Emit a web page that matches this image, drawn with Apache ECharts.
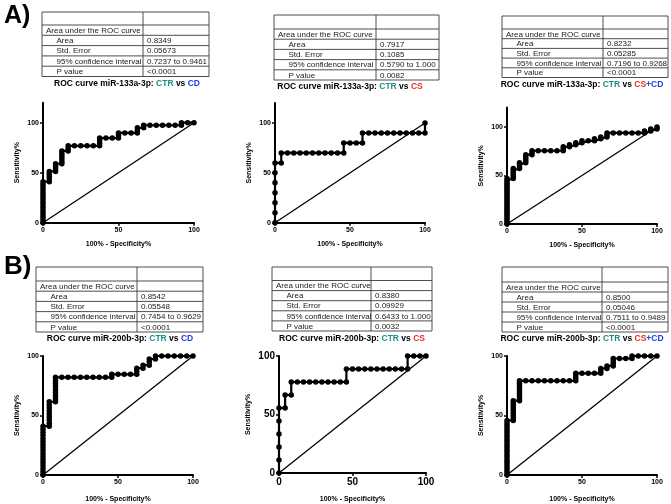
<!DOCTYPE html>
<html><head><meta charset="utf-8">
<script src="https://cdn.jsdelivr.net/npm/echarts@6/dist/echarts.min.js"></script>
<style>html,body{margin:0;padding:0;background:#fff}#c{width:671px;height:504px}</style>
</head><body><div id="c"></div>
<script>
// ---------- DATA ----------
const xTicks = [0, 50, 100];
const yTicks = [0, 50, 100];
const diagonal = [[0, 0], [100, 100]];
const rowLabels = ["Area under the ROC curve", "Area", "Std. Error", "95% confidence interval", "P value"];

const mirNames = ["miR-133a-3p", "miR-133a-3p", "miR-133a-3p", "miR-200b-3p", "miR-200b-3p", "miR-200b-3p"];
const groupNames = ["CD", "CS", "CS+CD", "CD", "CS", "CS+CD"];

const valsA1 = ["", "0.8349", "0.05673", "0.7237 to 0.9461", "<0.0001"];
const valsA2 = ["", "0.7917", "0.1085", "0.5790 to 1.000", "0.0082"];
const valsA3 = ["", "0.8232", "0.05285", "0.7196 to 0.9268", "<0.0001"];
const valsB1 = ["", "0.8542", "0.05548", "0.7454 to 0.9629", "<0.0001"];
const valsB2 = ["", "0.8380", "0.09929", "0.6433 to 1.000", "0.0032"];
const valsB3 = ["", "0.8500", "0.05046", "0.7511 to 0.9489", "<0.0001"];

// ROC points [100% - Specificity%, Sensitivity%]
const rocA1 = [[0,0],[0,2.56],[0,5.13],[0,7.69],[0,10.26],[0,12.82],[0,15.38],[0,17.95],[0,20.51],[0,23.08],[0,25.64],[0,28.21],[0,30.77],[0,33.33],[0,35.9],[0,38.46],[0,41.03],
 [4.17,41.03],[4.17,43.59],[4.17,46.15],[4.17,48.72],[4.17,51.28],
 [8.33,51.28],[8.33,53.85],[8.33,56.41],[8.33,58.97],
 [12.5,58.97],[12.5,61.54],[12.5,64.1],[12.5,66.67],[12.5,69.23],[12.5,71.79],
 [16.67,71.79],[16.67,74.36],[16.67,76.92],
 [20.83,76.92],[25,76.92],[29.17,76.92],[33.33,76.92],[37.5,76.92],
 [37.5,79.49],[37.5,82.05],[37.5,84.62],
 [41.67,84.62],[45.83,84.62],[50,84.62],[50,87.18],[50,89.74],
 [54.17,89.74],[58.33,89.74],[62.5,89.74],[62.5,92.31],[62.5,94.87],
 [66.67,94.87],[66.67,97.44],
 [70.83,97.44],[75,97.44],[79.17,97.44],[83.33,97.44],[87.5,97.44],[91.67,97.44],
 [91.67,100],[95.83,100],[100,100]];

const rocA2 = [[0,0],[0,10],[0,20],[0,30],[0,40],[0,50],[0,60],
 [4.17,60],[4.17,70],
 [8.33,70],[12.5,70],[16.67,70],[20.83,70],[25,70],[29.17,70],[33.33,70],[37.5,70],[41.67,70],[45.83,70],
 [45.83,80],[50,80],[54.17,80],[58.33,80],[58.33,90],
 [62.5,90],[66.67,90],[70.83,90],[75,90],[79.17,90],[83.33,90],[87.5,90],[91.67,90],[95.83,90],[100,90],[100,100]];

const rocA3 = [[0,0],[0,2.04],[0,4.08],[0,6.12],[0,8.16],[0,10.2],[0,12.24],[0,14.29],[0,16.33],[0,18.37],[0,20.41],[0,22.45],[0,24.49],[0,26.53],[0,28.57],[0,30.61],[0,32.65],[0,34.69],[0,36.73],[0,38.78],[0,40.82],[0,42.86],[0,44.9],[0,46.94],
 [4.17,46.94],[4.17,48.98],[4.17,51.02],[4.17,53.06],[4.17,55.1],[4.17,57.14],
 [8.33,57.14],[8.33,59.18],[8.33,61.22],[8.33,63.27],
 [12.5,63.27],[12.5,65.31],[12.5,67.35],[12.5,69.39],[12.5,71.43],
 [16.67,71.43],[16.67,73.47],[16.67,75.51],
 [20.83,75.51],[25,75.51],[29.17,75.51],[33.33,75.51],[37.5,75.51],
 [37.5,77.55],[37.5,79.59],[41.67,79.59],[41.67,81.63],[45.83,81.63],[45.83,83.67],[50,83.67],[50,85.71],
 [54.17,85.71],[58.33,85.71],[58.33,87.76],[62.5,87.76],[62.5,89.8],[66.67,89.8],[66.67,91.84],[66.67,93.88],
 [70.83,93.88],[75,93.88],[79.17,93.88],[83.33,93.88],[87.5,93.88],[91.67,93.88],
 [91.67,95.92],[95.83,95.92],[95.83,97.96],[100,97.96],[100,100]];

const rocB1 = [[0,0],[0,2.56],[0,5.13],[0,7.69],[0,10.26],[0,12.82],[0,15.38],[0,17.95],[0,20.51],[0,23.08],[0,25.64],[0,28.21],[0,30.77],[0,33.33],[0,35.9],[0,38.46],[0,41.03],
 [4.17,41.03],[4.17,43.59],[4.17,46.15],[4.17,48.72],[4.17,51.28],[4.17,53.85],[4.17,56.41],[4.17,58.97],[4.17,61.54],
 [8.33,61.54],[8.33,64.1],[8.33,66.67],[8.33,69.23],[8.33,71.79],[8.33,74.36],[8.33,76.92],[8.33,79.49],[8.33,82.05],
 [12.5,82.05],[16.67,82.05],[20.83,82.05],[25,82.05],[29.17,82.05],[33.33,82.05],[37.5,82.05],[41.67,82.05],[45.83,82.05],
 [45.83,84.62],[50,84.62],[54.17,84.62],[58.33,84.62],[62.5,84.62],
 [62.5,87.18],[62.5,89.74],[66.67,89.74],[66.67,92.31],[70.83,92.31],[70.83,94.87],[70.83,97.44],
 [75,97.44],[75,100],[79.17,100],[83.33,100],[87.5,100],[91.67,100],[95.83,100],[100,100]];

const rocB2 = [[0,0],[0,11.11],[0,22.22],[0,33.33],[0,44.44],[0,55.56],
 [4.17,55.56],[4.17,66.67],[8.33,66.67],[8.33,77.78],
 [12.5,77.78],[16.67,77.78],[20.83,77.78],[25,77.78],[29.17,77.78],[33.33,77.78],[37.5,77.78],[41.67,77.78],[45.83,77.78],
 [45.83,88.89],[50,88.89],[54.17,88.89],[58.33,88.89],[62.5,88.89],[66.67,88.89],[70.83,88.89],[75,88.89],[79.17,88.89],[83.33,88.89],[87.5,88.89],
 [87.5,100],[91.67,100],[95.83,100],[100,100]];

const rocB3 = [[0,0],[0,2.08],[0,4.17],[0,6.25],[0,8.33],[0,10.42],[0,12.5],[0,14.58],[0,16.67],[0,18.75],[0,20.83],[0,22.92],[0,25],[0,27.08],[0,29.17],[0,31.25],[0,33.33],[0,35.42],[0,37.5],[0,39.58],[0,41.67],[0,43.75],[0,45.83],
 [4.17,45.83],[4.17,47.92],[4.17,50],[4.17,52.08],[4.17,54.17],[4.17,56.25],[4.17,58.33],[4.17,60.42],[4.17,62.5],
 [8.33,62.5],[8.33,64.58],[8.33,66.67],[8.33,68.75],[8.33,70.83],[8.33,72.92],[8.33,75],[8.33,77.08],[8.33,79.17],
 [12.5,79.17],[16.67,79.17],[20.83,79.17],[25,79.17],[29.17,79.17],[33.33,79.17],[37.5,79.17],[41.67,79.17],[45.83,79.17],
 [45.83,81.25],[45.83,83.33],[45.83,85.42],[50,85.42],[54.17,85.42],[58.33,85.42],[62.5,85.42],
 [62.5,87.5],[62.5,89.58],[66.67,89.58],[66.67,91.67],[70.83,91.67],[70.83,93.75],[70.83,95.83],[70.83,97.92],
 [75,97.92],[79.17,97.92],[83.33,97.92],[83.33,100],[87.5,100],[91.67,100],[95.83,100],[100,100]];

// ---------- LAYOUT ----------
const FONT = 'Liberation Sans, Arial, Helvetica, sans-serif';
const CTR_COLOR = '#1b8f8c', CD_COLOR = '#1f3de6', CS_COLOR = '#ec2b24';

const rocs = [rocA1, rocA2, rocA3, rocB1, rocB2, rocB3];
const vals = [valsA1, valsA2, valsA3, valsB1, valsB2, valsB3];

const grids = [
  {left: 43, top: 102.7, width: 151, height: 120, ymax: 120, fs: 7, xGap: 18, yGap: 22},
  {left: 275, top: 103.1, width: 150, height: 119.6, ymax: 120, fs: 7, xGap: 18, yGap: 22},
  {left: 507, top: 107.6, width: 150, height: 116.4, ymax: 120, fs: 7, xGap: 18, yGap: 22},
  {left: 43, top: 356, width: 150, height: 119, ymax: 100, fs: 7, xGap: 21, yGap: 22},
  {left: 279, top: 356, width: 147, height: 117, ymax: 100, fs: 10, xGap: 23, yGap: 27},
  {left: 507, top: 356, width: 150, height: 119, ymax: 100, fs: 7, xGap: 21, yGap: 22}
];
const tables = [
  {x0: 42, x1: 209, xd: 143, top: 12, hdr: 25, bottom: 76.5},
  {x0: 274, x1: 439, xd: 376, top: 15, hdr: 29, bottom: 80},
  {x0: 502, x1: 668, xd: 603, top: 16, hdr: 29, bottom: 77.5},
  {x0: 36, x1: 203, xd: 137, top: 267, hdr: 281, bottom: 332},
  {x0: 272, x1: 432, xd: 371, top: 267, hdr: 280.5, bottom: 331},
  {x0: 502, x1: 668, xd: 602, top: 267, hdr: 282, bottom: 332}
];
const titlePos = [[127, 84], [350, 87], [582, 85], [120, 339], [352, 339], [582, 339]];

const graphics = [];
graphics.push({type: 'text', x: 4, y: 4, style: {text: 'A)', font: 'bold 25px ' + FONT, fill: '#000'}});
graphics.push({type: 'text', x: 4, y: 254, style: {text: 'B)', font: 'bold 26px ' + FONT, fill: '#000'}});

tables.forEach((t, i) => {
  const lc = '#3a3a3a';
  graphics.push({type: 'rect', shape: {x: t.x0, y: t.top, width: t.x1 - t.x0, height: t.bottom - t.top},
    style: {fill: 'none', stroke: lc, lineWidth: 0.9}});
  graphics.push({type: 'line', shape: {x1: t.xd, y1: t.top, x2: t.xd, y2: t.bottom}, style: {stroke: lc, lineWidth: 0.9}});
  const rh = (t.bottom - t.hdr) / 5;
  for (let r = 0; r < 5; r++) {
    const y = t.hdr + r * rh;
    graphics.push({type: 'line', shape: {x1: t.x0, y1: y, x2: t.x1, y2: y}, style: {stroke: lc, lineWidth: 0.9}});
    graphics.push({type: 'text', x: t.x0 + (r === 0 ? 4 : 14.5), y: y + rh / 2 + 0.5,
      style: {text: rowLabels[r], font: '8px ' + FONT, fill: '#1a1a1a', verticalAlign: 'middle'}});
    if (vals[i][r]) {
      graphics.push({type: 'text', x: t.xd + 4, y: y + rh / 2 + 0.5,
        style: {text: vals[i][r], font: '8px ' + FONT, fill: '#1a1a1a', verticalAlign: 'middle'}});
    }
  }
});

titlePos.forEach((p, i) => {
  const g = groupNames[i];
  let grp;
  if (g === 'CD') grp = '{d|CD}';
  else if (g === 'CS') grp = '{s|CS}';
  else grp = '{s|CS}{d|+CD}';
  const base = {fontSize: 8.5, fontWeight: 'bold', fontFamily: FONT};
  graphics.push({type: 'text', x: p[0], y: p[1],
    style: {text: '{k|ROC curve ' + mirNames[i] + ': }{t|CTR}{k| vs }' + grp, align: 'center', verticalAlign: 'middle',
      rich: {k: Object.assign({fill: '#000'}, base), t: Object.assign({fill: CTR_COLOR}, base),
             d: Object.assign({fill: CD_COLOR}, base), s: Object.assign({fill: CS_COLOR}, base)}}});
});

const option = {
  animation: false,
  backgroundColor: '#fff',
  grid: grids.map(g => ({left: g.left, top: g.top, width: g.width, height: g.height, containLabel: false})),
  xAxis: grids.map((g, i) => ({
    gridIndex: i, type: 'value', min: 0, max: 100, interval: 50,
    axisLine: {show: true, onZero: false, lineStyle: {color: '#000', width: 2}},
    axisTick: {show: true, length: 3, lineStyle: {color: '#000', width: 1.5}, customValues: xTicks},
    axisLabel: {fontSize: g.fs, fontWeight: 'bold', color: '#000', fontFamily: FONT, margin: 4, customValues: xTicks},
    splitLine: {show: false},
    name: '100% - Specificity%', nameLocation: 'middle', nameGap: g.xGap,
    nameTextStyle: {fontSize: 7, fontWeight: 'bold', color: '#000', fontFamily: FONT}
  })),
  yAxis: grids.map((g, i) => ({
    gridIndex: i, type: 'value', min: 0, max: g.ymax, interval: 50,
    axisLine: {show: true, onZero: false, lineStyle: {color: '#000', width: 2}},
    axisTick: {show: true, length: 3, lineStyle: {color: '#000', width: 1.5}, customValues: yTicks},
    axisLabel: {fontSize: g.fs, fontWeight: 'bold', color: '#000', fontFamily: FONT, margin: 4, customValues: yTicks},
    splitLine: {show: false},
    name: 'Sensitivity%', nameLocation: 'middle', nameGap: g.yGap, nameRotate: 90,
    nameTextStyle: {fontSize: 7, fontWeight: 'bold', color: '#000', fontFamily: FONT}
  })),
  series: [].concat(
    rocs.map((r, i) => ({type: 'line', xAxisIndex: i, yAxisIndex: i, data: diagonal, symbol: 'none', silent: true,
      lineStyle: {color: '#000', width: 1.3}, z: 2})),
    rocs.map((r, i) => ({type: 'line', xAxisIndex: i, yAxisIndex: i, data: r, symbol: 'circle', symbolSize: 5.5,
      showSymbol: true, showAllSymbol: true, lineStyle: {color: '#000', width: 2.2}, itemStyle: {color: '#000'}, z: 3}))
  ),
  graphic: graphics
};
const chart = echarts.init(document.getElementById('c'), null, {renderer: 'canvas'});
chart.setOption(option);
</script></body></html>
